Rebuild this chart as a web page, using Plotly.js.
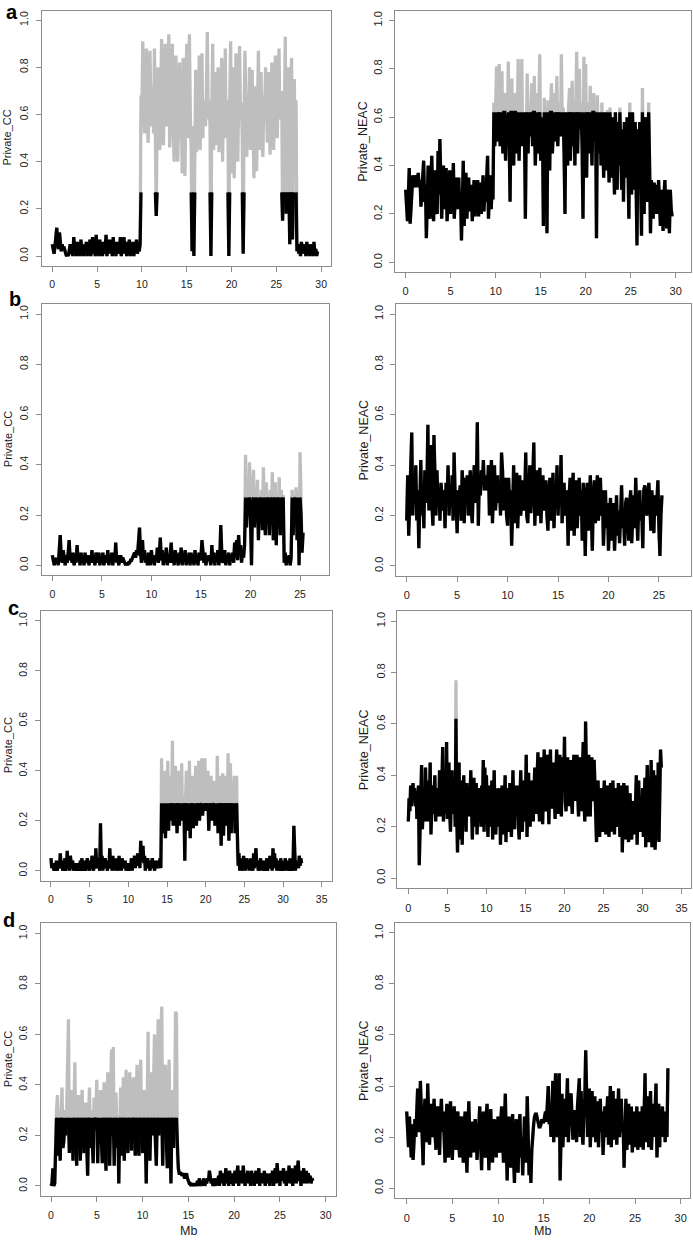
<!DOCTYPE html>
<html>
<head>
<meta charset="utf-8">
<script src="https://cdn.plot.ly/plotly-3.0.1.min.js"></script>
<style>
  body { margin: 0; background: #ffffff; }
  #graph { width: 693px; height: 1240px; }
</style>
</head>
<body>
<div id="graph"></div>
<script>
// windows are 0.1 Mb apart, every row below covers 2 Mb
let step = 0.1;

let ccThreshold = 0.27;
let neacThreshold = 0.62;

let aCC = [
    0.05, 0.03, 0.01, 0.04, 0.11, 0.12, 0.06, 0.03, 0.10, 0.04, 0.02, 0.05, 0.03, 0.04, 0.02, 0.01, 0.00, 0.01, 0.00, 0.02,
    0.05, 0.01, 0.03, 0.00, 0.08, 0.02, 0.04, 0.00, 0.06, 0.01, 0.03, 0.00, 0.07, 0.01, 0.04, 0.00, 0.05, 0.02, 0.06, 0.00,
    0.04, 0.01, 0.07, 0.00, 0.03, 0.08, 0.01, 0.04, 0.00, 0.09, 0.02, 0.05, 0.00, 0.07, 0.01, 0.04, 0.00, 0.06, 0.01, 0.03,
    0.09, 0.00, 0.05, 0.01, 0.07, 0.02, 0.04, 0.00, 0.08, 0.01, 0.05, 0.00, 0.06, 0.02, 0.04, 0.01, 0.08, 0.00, 0.05, 0.02,
    0.08, 0.01, 0.04, 0.00, 0.06, 0.02, 0.07, 0.00, 0.04, 0.01, 0.06, 0.00, 0.05, 0.02, 0.07, 0.01, 0.04, 0.02, 0.05, 0.68,
    0.62, 0.91, 0.60, 0.52, 0.70, 0.88, 0.58, 0.48, 0.66, 0.87, 0.62, 0.55, 0.72, 0.52, 0.88, 0.35, 0.17, 0.60, 0.80, 0.55,
    0.45, 0.66, 0.92, 0.60, 0.47, 0.68, 0.90, 0.58, 0.55, 0.66, 0.94, 0.46, 0.62, 0.70, 0.90, 0.52, 0.40, 0.68, 0.85, 0.55,
    0.40, 0.62, 0.82, 0.50, 0.60, 0.35, 0.84, 0.58, 0.34, 0.66, 0.90, 0.50, 0.70, 0.94, 0.60, 0.45, 0.02, 0.55, 0.00, 0.60,
    0.79, 0.44, 0.62, 0.58, 0.85, 0.45, 0.65, 0.86, 0.50, 0.66, 0.60, 0.55, 0.70, 0.95, 0.58, 0.66, 0.55, 0.00, 0.62, 0.90,
    0.45, 0.66, 0.78, 0.47, 0.62, 0.80, 0.44, 0.68, 0.55, 0.84, 0.40, 0.65, 0.58, 0.88, 0.50, 0.66, 0.60, 0.00, 0.65, 0.91,
    0.35, 0.66, 0.80, 0.33, 0.60, 0.86, 0.55, 0.40, 0.68, 0.89, 0.58, 0.65, 0.50, 0.01, 0.60, 0.87, 0.62, 0.42, 0.68, 0.55,
    0.80, 0.45, 0.65, 0.79, 0.55, 0.33, 0.62, 0.72, 0.36, 0.58, 0.87, 0.45, 0.66, 0.78, 0.50, 0.42, 0.68, 0.60, 0.80, 0.55,
    0.48, 0.68, 0.78, 0.43, 0.65, 0.82, 0.55, 0.45, 0.66, 0.85, 0.60, 0.50, 0.70, 0.88, 0.58, 0.62, 0.70, 0.15, 0.68, 0.60,
    0.93, 0.18, 0.62, 0.80, 0.55, 0.05, 0.68, 0.84, 0.07, 0.60, 0.75, 0.50, 0.66, 0.02, 0.05, 0.01, 0.04, 0.00, 0.06, 0.01,
    0.05, 0.01, 0.03, 0.00, 0.06, 0.01, 0.04, 0.00, 0.05, 0.02, 0.04, 0.00, 0.06, 0.01, 0.03, 0.00, 0.02
];

let aNEAC = [
    0.30, 0.24, 0.17, 0.28, 0.39, 0.16, 0.22, 0.33, 0.36, 0.32, 0.35, 0.31, 0.36, 0.33, 0.37, 0.31, 0.34, 0.23, 0.30, 0.38,
    0.42, 0.25, 0.32, 0.10, 0.30, 0.40, 0.22, 0.18, 0.33, 0.44, 0.25, 0.17, 0.30, 0.38, 0.22, 0.20, 0.46, 0.28, 0.51, 0.25,
    0.18, 0.30, 0.40, 0.22, 0.28, 0.39, 0.17, 0.26, 0.33, 0.38, 0.20, 0.30, 0.25, 0.41, 0.18, 0.28, 0.35, 0.22, 0.30, 0.35,
    0.22, 0.28, 0.09, 0.30, 0.42, 0.15, 0.27, 0.37, 0.18, 0.25, 0.35, 0.21, 0.30, 0.32, 0.17, 0.26, 0.34, 0.19, 0.29, 0.30,
    0.34, 0.19, 0.27, 0.33, 0.20, 0.28, 0.36, 0.21, 0.30, 0.25, 0.33, 0.44, 0.18, 0.28, 0.36, 0.22, 0.30, 0.26, 0.66, 0.48,
    0.60, 0.81, 0.50, 0.66, 0.82, 0.48, 0.58, 0.79, 0.45, 0.62, 0.70, 0.42, 0.60, 0.55, 0.83, 0.50, 0.25, 0.62, 0.76, 0.45,
    0.40, 0.62, 0.70, 0.45, 0.58, 0.84, 0.42, 0.66, 0.55, 0.84, 0.48, 0.62, 0.55, 0.18, 0.60, 0.78, 0.45, 0.64, 0.52, 0.70,
    0.74, 0.48, 0.62, 0.77, 0.40, 0.58, 0.70, 0.45, 0.64, 0.86, 0.42, 0.60, 0.55, 0.15, 0.68, 0.50, 0.62, 0.12, 0.67, 0.45,
    0.38, 0.62, 0.74, 0.45, 0.58, 0.70, 0.50, 0.64, 0.77, 0.48, 0.60, 0.66, 0.52, 0.86, 0.55, 0.64, 0.45, 0.20, 0.62, 0.48,
    0.40, 0.64, 0.72, 0.42, 0.60, 0.75, 0.48, 0.66, 0.40, 0.70, 0.87, 0.45, 0.64, 0.80, 0.55, 0.66, 0.48, 0.18, 0.85, 0.50,
    0.82, 0.35, 0.60, 0.66, 0.45, 0.73, 0.55, 0.40, 0.62, 0.70, 0.50, 0.64, 0.10, 0.69, 0.45, 0.58, 0.62, 0.40, 0.66, 0.50,
    0.35, 0.62, 0.50, 0.38, 0.63, 0.45, 0.33, 0.64, 0.52, 0.35, 0.60, 0.45, 0.28, 0.62, 0.48, 0.30, 0.58, 0.40, 0.64, 0.35,
    0.30, 0.55, 0.25, 0.58, 0.42, 0.35, 0.60, 0.38, 0.18, 0.66, 0.45, 0.28, 0.62, 0.40, 0.30, 0.58, 0.20, 0.07, 0.55, 0.35,
    0.58, 0.30, 0.11, 0.72, 0.40, 0.20, 0.60, 0.35, 0.25, 0.50, 0.66, 0.40, 0.12, 0.34, 0.22, 0.18, 0.33, 0.25, 0.20, 0.32,
    0.20, 0.34, 0.26, 0.15, 0.30, 0.22, 0.13, 0.28, 0.34, 0.20, 0.14, 0.30, 0.25, 0.12, 0.30, 0.22, 0.19
];

let bCC = [
    0.04, 0.02, 0.00, 0.03, 0.01, 0.02, 0.00, 0.06, 0.12, 0.03, 0.01, 0.06, 0.02, 0.00, 0.04, 0.01, 0.05, 0.10, 0.02, 0.04,
    0.01, 0.05, 0.00, 0.03, 0.01, 0.08, 0.02, 0.04, 0.00, 0.05, 0.01, 0.03, 0.00, 0.05, 0.02, 0.01, 0.04, 0.00, 0.03, 0.01,
    0.06, 0.01, 0.03, 0.00, 0.05, 0.02, 0.01, 0.05, 0.00, 0.03, 0.01, 0.05, 0.00, 0.02, 0.04, 0.01, 0.06, 0.00, 0.03, 0.01,
    0.05, 0.00, 0.03, 0.02, 0.09, 0.01, 0.04, 0.00, 0.02, 0.04, 0.01, 0.03, 0.02, 0.01, 0.00, 0.01, 0.00, 0.01, 0.01, 0.02,
    0.02, 0.03, 0.04, 0.05, 0.03, 0.06, 0.04, 0.10, 0.15, 0.05, 0.01, 0.10, 0.02, 0.06, 0.01, 0.04, 0.00, 0.05, 0.02, 0.00,
    0.06, 0.01, 0.03, 0.00, 0.04, 0.02, 0.07, 0.01, 0.05, 0.11, 0.02, 0.06, 0.00, 0.04, 0.01, 0.07, 0.00, 0.03, 0.01, 0.05,
    0.09, 0.01, 0.04, 0.00, 0.06, 0.02, 0.03, 0.00, 0.05, 0.01, 0.07, 0.00, 0.04, 0.02, 0.06, 0.00, 0.03, 0.01, 0.05, 0.00,
    0.05, 0.01, 0.03, 0.00, 0.06, 0.01, 0.04, 0.00, 0.05, 0.02, 0.03, 0.10, 0.04, 0.01, 0.05, 0.00, 0.03, 0.02, 0.04, 0.01,
    0.00, 0.08, 0.01, 0.05, 0.00, 0.04, 0.02, 0.06, 0.00, 0.03, 0.16, 0.05, 0.01, 0.02, 0.06, 0.00, 0.04, 0.01, 0.05, 0.00,
    0.04, 0.02, 0.05, 0.01, 0.09, 0.03, 0.10, 0.02, 0.12, 0.04, 0.08, 0.01, 0.06, 0.03, 0.08, 0.44, 0.15, 0.30, 0.20, 0.41,
    0.18, 0.00, 0.25, 0.38, 0.15, 0.29, 0.20, 0.34, 0.10, 0.28, 0.18, 0.30, 0.14, 0.39, 0.22, 0.12, 0.33, 0.20, 0.28, 0.12,
    0.30, 0.18, 0.37, 0.10, 0.25, 0.33, 0.08, 0.28, 0.18, 0.35, 0.12, 0.30, 0.20, 0.28, 0.01, 0.05, 0.00, 0.03, 0.01, 0.04,
    0.00, 0.03, 0.30, 0.12, 0.28, 0.18, 0.31, 0.10, 0.29, 0.00, 0.45, 0.20, 0.05, 0.13
];

let bNEAC = [
    0.18, 0.36, 0.12, 0.26, 0.30, 0.53, 0.20, 0.35, 0.25, 0.40, 0.18, 0.30, 0.07, 0.28, 0.42, 0.20, 0.32, 0.15, 0.38, 0.25,
    0.30, 0.56, 0.22, 0.35, 0.48, 0.25, 0.16, 0.52, 0.28, 0.20, 0.38, 0.25, 0.30, 0.18, 0.33, 0.26, 0.22, 0.30, 0.15, 0.33,
    0.25, 0.40, 0.20, 0.30, 0.24, 0.36, 0.18, 0.45, 0.28, 0.25, 0.13, 0.30, 0.26, 0.32, 0.18, 0.38, 0.28, 0.17, 0.35, 0.30,
    0.36, 0.20, 0.30, 0.38, 0.22, 0.17, 0.32, 0.40, 0.25, 0.30, 0.57, 0.16, 0.35, 0.28, 0.38, 0.32, 0.42, 0.30, 0.36, 0.33,
    0.30, 0.40, 0.20, 0.34, 0.42, 0.17, 0.28, 0.40, 0.22, 0.30, 0.36, 0.25, 0.32, 0.20, 0.45, 0.38, 0.22, 0.30, 0.35, 0.20,
    0.16, 0.35, 0.25, 0.30, 0.08, 0.22, 0.40, 0.17, 0.30, 0.37, 0.15, 0.28, 0.36, 0.20, 0.30, 0.34, 0.22, 0.28, 0.45, 0.20,
    0.17, 0.30, 0.40, 0.21, 0.28, 0.35, 0.49, 0.16, 0.30, 0.38, 0.20, 0.32, 0.39, 0.17, 0.28, 0.36, 0.22, 0.30, 0.34, 0.20,
    0.14, 0.30, 0.35, 0.18, 0.28, 0.37, 0.15, 0.30, 0.25, 0.40, 0.20, 0.30, 0.26, 0.44, 0.17, 0.28, 0.33, 0.20, 0.30, 0.26,
    0.08, 0.28, 0.35, 0.14, 0.25, 0.37, 0.12, 0.30, 0.34, 0.15, 0.26, 0.35, 0.20, 0.30, 0.10, 0.33, 0.22, 0.04, 0.28, 0.33,
    0.14, 0.30, 0.36, 0.20, 0.06, 0.28, 0.34, 0.17, 0.30, 0.36, 0.18, 0.25, 0.35, 0.20, 0.30, 0.08, 0.26, 0.30, 0.15, 0.25,
    0.06, 0.22, 0.27, 0.10, 0.20, 0.25, 0.06, 0.18, 0.28, 0.12, 0.22, 0.09, 0.26, 0.32, 0.15, 0.20, 0.08, 0.25, 0.27, 0.15,
    0.10, 0.24, 0.30, 0.09, 0.20, 0.28, 0.15, 0.35, 0.22, 0.10, 0.25, 0.30, 0.18, 0.22, 0.07, 0.30, 0.32, 0.22, 0.20, 0.28,
    0.33, 0.25, 0.14, 0.30, 0.22, 0.13, 0.28, 0.20, 0.26, 0.34, 0.15, 0.04, 0.20, 0.28
];

let cCC = [
    0.05, 0.01, 0.03, 0.02, 0.00, 0.03, 0.01, 0.04, 0.00, 0.02, 0.03, 0.01, 0.07, 0.02, 0.04, 0.00, 0.03, 0.01, 0.05, 0.00,
    0.02, 0.08, 0.01, 0.04, 0.00, 0.06, 0.02, 0.01, 0.04, 0.00, 0.03, 0.01, 0.02, 0.00, 0.03, 0.01, 0.02, 0.00, 0.04, 0.01,
    0.05, 0.00, 0.03, 0.01, 0.04, 0.00, 0.02, 0.05, 0.01, 0.03, 0.00, 0.04, 0.01, 0.06, 0.02, 0.00, 0.04, 0.01, 0.09, 0.02,
    0.05, 0.01, 0.03, 0.00, 0.19, 0.02, 0.06, 0.00, 0.04, 0.01, 0.05, 0.02, 0.03, 0.00, 0.04, 0.01, 0.09, 0.02, 0.05, 0.00,
    0.06, 0.01, 0.04, 0.00, 0.05, 0.02, 0.03, 0.00, 0.06, 0.01, 0.04, 0.00, 0.05, 0.02, 0.03, 0.01, 0.04, 0.00, 0.03, 0.01,
    0.03, 0.00, 0.02, 0.01, 0.05, 0.00, 0.04, 0.02, 0.06, 0.01, 0.05, 0.02, 0.07, 0.03, 0.05, 0.01, 0.12, 0.04, 0.06, 0.10,
    0.03, 0.06, 0.00, 0.04, 0.02, 0.05, 0.01, 0.03, 0.00, 0.04, 0.02, 0.05, 0.01, 0.03, 0.00, 0.04, 0.02, 0.03, 0.01, 0.04,
    0.02, 0.05, 0.01, 0.45, 0.15, 0.30, 0.22, 0.40, 0.13, 0.28, 0.18, 0.44, 0.16, 0.30, 0.20, 0.38, 0.25, 0.52, 0.18, 0.32,
    0.18, 0.42, 0.25, 0.15, 0.30, 0.40, 0.18, 0.32, 0.22, 0.43, 0.20, 0.30, 0.25, 0.04, 0.28, 0.40, 0.16, 0.30, 0.22, 0.44,
    0.13, 0.30, 0.25, 0.38, 0.17, 0.32, 0.22, 0.42, 0.18, 0.30, 0.25, 0.44, 0.20, 0.32, 0.26, 0.45, 0.22, 0.34, 0.28, 0.45,
    0.24, 0.35, 0.28, 0.40, 0.16, 0.30, 0.24, 0.38, 0.20, 0.32, 0.26, 0.36, 0.18, 0.30, 0.22, 0.46, 0.15, 0.32, 0.25, 0.38,
    0.10, 0.30, 0.39, 0.14, 0.28, 0.38, 0.18, 0.30, 0.25, 0.47, 0.12, 0.30, 0.43, 0.15, 0.28, 0.36, 0.20, 0.38, 0.15, 0.30,
    0.38, 0.06, 0.02, 0.07, 0.00, 0.05, 0.01, 0.03, 0.00, 0.06, 0.01, 0.04, 0.00, 0.05, 0.02, 0.01, 0.04, 0.00, 0.05, 0.01,
    0.03, 0.00, 0.07, 0.01, 0.05, 0.09, 0.02, 0.04, 0.00, 0.03, 0.01, 0.05, 0.00, 0.04, 0.02, 0.03, 0.00, 0.04, 0.01, 0.05,
    0.00, 0.03, 0.01, 0.06, 0.02, 0.04, 0.00, 0.09, 0.03, 0.07, 0.01, 0.05, 0.00, 0.04, 0.02, 0.03, 0.00, 0.05, 0.01, 0.04,
    0.00, 0.03, 0.01, 0.05, 0.00, 0.04, 0.02, 0.03, 0.00, 0.05, 0.01, 0.04, 0.00, 0.03, 0.18, 0.02, 0.00, 0.04, 0.01, 0.03,
    0.01, 0.06, 0.02, 0.05, 0.03
];

let cNEAC = [
    0.22, 0.31, 0.26, 0.36, 0.28, 0.33, 0.37, 0.30, 0.35, 0.28, 0.34, 0.23, 0.30, 0.36, 0.05, 0.22, 0.30, 0.44, 0.19, 0.28,
    0.35, 0.22, 0.43, 0.28, 0.32, 0.22, 0.38, 0.30, 0.45, 0.17, 0.30, 0.36, 0.25, 0.33, 0.40, 0.22, 0.30, 0.35, 0.28, 0.24,
    0.42, 0.28, 0.24, 0.36, 0.51, 0.22, 0.30, 0.40, 0.25, 0.53, 0.23, 0.35, 0.45, 0.26, 0.18, 0.32, 0.42, 0.25, 0.30, 0.38,
    0.20, 0.77, 0.25, 0.10, 0.30, 0.45, 0.15, 0.28, 0.38, 0.13, 0.30, 0.40, 0.22, 0.33, 0.18, 0.37, 0.28, 0.24, 0.35, 0.30,
    0.42, 0.25, 0.15, 0.33, 0.39, 0.20, 0.30, 0.37, 0.17, 0.28, 0.35, 0.22, 0.30, 0.20, 0.36, 0.28, 0.46, 0.18, 0.43, 0.22,
    0.40, 0.25, 0.16, 0.30, 0.36, 0.20, 0.28, 0.38, 0.15, 0.30, 0.42, 0.22, 0.17, 0.32, 0.35, 0.20, 0.28, 0.35, 0.13, 0.30,
    0.36, 0.22, 0.17, 0.30, 0.40, 0.14, 0.28, 0.35, 0.22, 0.18, 0.37, 0.30, 0.16, 0.28, 0.42, 0.24, 0.19, 0.32, 0.36, 0.25,
    0.36, 0.20, 0.15, 0.30, 0.42, 0.25, 0.18, 0.32, 0.38, 0.22, 0.30, 0.48, 0.16, 0.28, 0.41, 0.25, 0.20, 0.34, 0.38, 0.28,
    0.22, 0.35, 0.43, 0.28, 0.25, 0.40, 0.49, 0.30, 0.22, 0.38, 0.47, 0.32, 0.21, 0.36, 0.50, 0.30, 0.26, 0.40, 0.48, 0.33,
    0.21, 0.36, 0.50, 0.30, 0.27, 0.42, 0.45, 0.32, 0.23, 0.40, 0.50, 0.35, 0.25, 0.38, 0.48, 0.30, 0.24, 0.42, 0.47, 0.35,
    0.55, 0.30, 0.26, 0.40, 0.47, 0.33, 0.28, 0.42, 0.46, 0.30, 0.25, 0.40, 0.48, 0.35, 0.30, 0.42, 0.48, 0.32, 0.24, 0.40,
    0.47, 0.33, 0.26, 0.42, 0.53, 0.30, 0.22, 0.61, 0.35, 0.24, 0.40, 0.48, 0.30, 0.24, 0.42, 0.47, 0.32, 0.30, 0.46, 0.38,
    0.30, 0.14, 0.26, 0.38, 0.20, 0.16, 0.32, 0.35, 0.22, 0.18, 0.30, 0.38, 0.24, 0.17, 0.30, 0.36, 0.22, 0.16, 0.28, 0.37,
    0.18, 0.30, 0.38, 0.24, 0.17, 0.32, 0.35, 0.22, 0.20, 0.37, 0.28, 0.16, 0.30, 0.36, 0.10, 0.25, 0.37, 0.20, 0.15, 0.30,
    0.36, 0.22, 0.14, 0.30, 0.33, 0.18, 0.15, 0.28, 0.30, 0.22, 0.17, 0.30, 0.40, 0.13, 0.26, 0.38, 0.22, 0.18, 0.30, 0.25,
    0.35, 0.16, 0.28, 0.39, 0.12, 0.25, 0.44, 0.20, 0.14, 0.38, 0.30, 0.46, 0.12, 0.25, 0.42, 0.30, 0.11, 0.22, 0.40, 0.15,
    0.45, 0.14, 0.30, 0.50, 0.43
];

let dCC = [
    0.00, 0.01, 0.07, 0.00, 0.01, 0.23, 0.30, 0.36, 0.12, 0.30, 0.10, 0.28, 0.39, 0.15, 0.18, 0.30, 0.20, 0.28, 0.48, 0.66,
    0.13, 0.32, 0.20, 0.38, 0.10, 0.28, 0.49, 0.18, 0.08, 0.30, 0.36, 0.15, 0.10, 0.32, 0.38, 0.20, 0.13, 0.30, 0.33, 0.18,
    0.04, 0.28, 0.39, 0.15, 0.30, 0.20, 0.09, 0.35, 0.22, 0.28, 0.42, 0.09, 0.30, 0.20, 0.38, 0.15, 0.09, 0.30, 0.41, 0.20,
    0.06, 0.30, 0.45, 0.18, 0.08, 0.32, 0.54, 0.20, 0.55, 0.08, 0.30, 0.37, 0.15, 0.28, 0.01, 0.30, 0.39, 0.12, 0.28, 0.43,
    0.10, 0.30, 0.46, 0.18, 0.13, 0.32, 0.45, 0.20, 0.14, 0.30, 0.43, 0.22, 0.12, 0.35, 0.48, 0.20, 0.12, 0.30, 0.50, 0.18,
    0.13, 0.30, 0.38, 0.20, 0.01, 0.32, 0.61, 0.15, 0.10, 0.30, 0.45, 0.20, 0.36, 0.60, 0.18, 0.08, 0.35, 0.66, 0.20, 0.30,
    0.62, 0.71, 0.08, 0.30, 0.40, 0.48, 0.15, 0.07, 0.30, 0.50, 0.20, 0.01, 0.28, 0.38, 0.15, 0.30, 0.69, 0.68, 0.12, 0.07,
    0.05, 0.05, 0.05, 0.04, 0.05, 0.04, 0.03, 0.04, 0.05, 0.03, 0.02, 0.01, 0.01, 0.00, 0.01, 0.00, 0.01, 0.00, 0.01, 0.00,
    0.02, 0.00, 0.03, 0.01, 0.00, 0.02, 0.01, 0.03, 0.00, 0.02, 0.01, 0.03, 0.02, 0.06, 0.03, 0.01, 0.02, 0.00, 0.03, 0.01,
    0.00, 0.03, 0.01, 0.04, 0.00, 0.06, 0.02, 0.01, 0.05, 0.00, 0.03, 0.07, 0.01, 0.04, 0.00, 0.06, 0.02, 0.01, 0.05, 0.00,
    0.03, 0.06, 0.01, 0.04, 0.08, 0.00, 0.05, 0.02, 0.06, 0.01, 0.08, 0.03, 0.00, 0.05, 0.02, 0.06, 0.01, 0.04, 0.00, 0.06,
    0.02, 0.05, 0.00, 0.04, 0.06, 0.01, 0.03, 0.07, 0.00, 0.05, 0.02, 0.04, 0.01, 0.06, 0.00, 0.03, 0.05, 0.01, 0.04, 0.00,
    0.05, 0.02, 0.06, 0.00, 0.04, 0.07, 0.01, 0.09, 0.03, 0.05, 0.00, 0.06, 0.02, 0.04, 0.07, 0.01, 0.05, 0.00, 0.06, 0.02,
    0.08, 0.01, 0.05, 0.07, 0.00, 0.06, 0.02, 0.08, 0.01, 0.05, 0.10, 0.02, 0.06, 0.00, 0.05, 0.03, 0.07, 0.01, 0.04, 0.06,
    0.01, 0.05, 0.02, 0.04, 0.01, 0.03, 0.02
];

let dNEAC = [
    0.30, 0.22, 0.16, 0.28, 0.21, 0.12, 0.25, 0.11, 0.18, 0.27, 0.20, 0.30, 0.39, 0.25, 0.22, 0.42, 0.30, 0.20, 0.09, 0.28,
    0.35, 0.22, 0.18, 0.41, 0.25, 0.17, 0.30, 0.33, 0.20, 0.28, 0.35, 0.22, 0.15, 0.30, 0.32, 0.24, 0.13, 0.28, 0.35, 0.22,
    0.30, 0.20, 0.10, 0.25, 0.33, 0.15, 0.12, 0.28, 0.34, 0.20, 0.11, 0.25, 0.32, 0.22, 0.15, 0.28, 0.30, 0.18, 0.12, 0.26,
    0.28, 0.18, 0.10, 0.25, 0.30, 0.15, 0.06, 0.22, 0.34, 0.20, 0.12, 0.26, 0.24, 0.14, 0.20, 0.27, 0.22, 0.11, 0.18, 0.26,
    0.32, 0.18, 0.07, 0.24, 0.30, 0.15, 0.12, 0.28, 0.33, 0.20, 0.07, 0.22, 0.31, 0.18, 0.10, 0.25, 0.27, 0.16, 0.12, 0.22,
    0.28, 0.15, 0.14, 0.26, 0.32, 0.20, 0.10, 0.25, 0.37, 0.18, 0.03, 0.20, 0.28, 0.15, 0.08, 0.22, 0.29, 0.12, 0.02, 0.20,
    0.27, 0.15, 0.06, 0.25, 0.29, 0.12, 0.20, 0.05, 0.22, 0.28, 0.10, 0.16, 0.36, 0.20, 0.05, 0.12, 0.02, 0.15, 0.22, 0.25,
    0.28, 0.29, 0.29, 0.27, 0.25, 0.24, 0.24, 0.25, 0.27, 0.26, 0.26, 0.28, 0.30, 0.26, 0.32, 0.40, 0.25, 0.30, 0.20, 0.33,
    0.42, 0.18, 0.30, 0.45, 0.25, 0.20, 0.35, 0.45, 0.03, 0.30, 0.37, 0.16, 0.28, 0.35, 0.20, 0.30, 0.43, 0.18, 0.28, 0.36,
    0.37, 0.22, 0.19, 0.30, 0.30, 0.25, 0.18, 0.32, 0.37, 0.43, 0.20, 0.38, 0.22, 0.17, 0.30, 0.35, 0.54, 0.25, 0.20, 0.30,
    0.39, 0.16, 0.25, 0.38, 0.20, 0.30, 0.36, 0.18, 0.25, 0.34, 0.16, 0.28, 0.35, 0.22, 0.30, 0.13, 0.25, 0.32, 0.20, 0.28,
    0.36, 0.17, 0.28, 0.40, 0.16, 0.30, 0.38, 0.19, 0.26, 0.35, 0.17, 0.30, 0.39, 0.20, 0.30, 0.35, 0.22, 0.25, 0.08, 0.30,
    0.35, 0.15, 0.25, 0.33, 0.17, 0.30, 0.32, 0.14, 0.28, 0.30, 0.16, 0.25, 0.32, 0.15, 0.28, 0.30, 0.16, 0.25, 0.32, 0.15,
    0.30, 0.45, 0.18, 0.28, 0.36, 0.16, 0.30, 0.38, 0.15, 0.25, 0.33, 0.20, 0.28, 0.41, 0.12, 0.28, 0.33, 0.16, 0.30, 0.25,
    0.32, 0.20, 0.30, 0.18, 0.28, 0.20, 0.47
];

let ticks30 = [0, 5, 10, 15, 20, 25, 30];
let ticks25 = [0, 5, 10, 15, 20, 25];
let ticks35 = [0, 5, 10, 15, 20, 25, 30, 35];
let yTicks = [0, 0.2, 0.4, 0.6, 0.8, 1.0];
let yTickText = ["0.0", "0.2", "0.4", "0.6", "0.8", "1.0"];

const W = 693, H = 1240;
const fontFamily = "Liberation Sans, Arial, sans-serif";

// panel boxes in pixels: left, right, top, bottom
let panels = [
    {vals: aCC,   thr: ccThreshold,   box: [41.7, 331, 10.7, 265.5],   xr: [-1.18, 31.1],  ticks: ticks30, name: "Private_CC",   left: true},
    {vals: aNEAC, thr: neacThreshold, box: [394.5, 691, 10.7, 272],    xr: [-1.24, 31.7],  ticks: ticks30, name: "Private_NEAC", left: false},
    {vals: bCC,   thr: ccThreshold,   box: [42.3, 329, 304, 575.3],    xr: [-1.01, 27.92], ticks: ticks25, name: "Private_CC",   left: true},
    {vals: bNEAC, thr: neacThreshold, box: [395.7, 691, 304, 576],     xr: [-1.09, 28.18], ticks: ticks25, name: "Private_NEAC", left: false},
    {vals: cCC,   thr: ccThreshold,   box: [40.7, 332.3, 611, 880.7],  xr: [-1.33, 36.37], ticks: ticks35, name: "Private_CC",   left: true},
    {vals: cNEAC, thr: neacThreshold, box: [397.3, 691, 611, 888.3],   xr: [-1.41, 36.2],  ticks: ticks35, name: "Private_NEAC", left: false},
    {vals: dCC,   thr: ccThreshold,   box: [40.7, 336, 923.3, 1196],   xr: [-1.13, 31.13], ticks: ticks30, name: "Private_CC",   left: true},
    {vals: dNEAC, thr: neacThreshold, box: [395, 690, 922.7, 1198.3],  xr: [-1.28, 31.02], ticks: ticks30, name: "Private_NEAC", left: false}
];

function positions(vals) {
    let xs = [];
    for (let i = 0; i < vals.length; i++) {
        xs.push(Math.round(i * step * 10) / 10);
    }
    return xs;
}

// black part of the line: the segments with at least one end under the threshold, clipped at it
function blackPart(xs, ys, thr) {
    let bx = [], by = [];
    let open = false;
    for (let i = 0; i < ys.length - 1; i++) {
        if (ys[i] > thr && ys[i + 1] > thr) {
            if (open) {
                bx.push(null);
                by.push(null);
                open = false;
            }
            continue;
        }
        if (!open) {
            bx.push(xs[i]);
            by.push(Math.min(ys[i], thr));
            open = true;
        }
        bx.push(xs[i + 1]);
        by.push(Math.min(ys[i + 1], thr));
    }
    return {x: bx, y: by};
}

let data = [];
let layout = {
    width: W,
    height: H,
    margin: {l: 0, r: 0, t: 0, b: 0},
    paper_bgcolor: "#ffffff",
    plot_bgcolor: "#ffffff",
    showlegend: false,
    font: {family: fontFamily, color: "#1a1a1a"},
    annotations: []
};

panels.forEach(function(p, k) {
    let n = k + 1;
    let xa = "x" + n, ya = "y" + n;
    let xs = positions(p.vals);
    let black = blackPart(xs, p.vals, p.thr);
    let tickSize = p.left ? 10.5 : 11;

    data.push({
        x: xs, y: p.vals, xaxis: xa, yaxis: ya,
        type: "scatter", mode: "lines",
        line: {color: "#bebebe", width: 3.3},
        hoverinfo: "skip"
    });
    data.push({
        x: black.x, y: black.y, xaxis: xa, yaxis: ya,
        type: "scatter", mode: "lines", connectgaps: false,
        line: {color: "#000000", width: 3.3},
        hoverinfo: "skip"
    });

    let axisStyle = {
        showline: true, mirror: true, linecolor: "#8c8c8c", linewidth: 1,
        ticks: "outside", ticklen: 5, tickwidth: 1, tickcolor: "#8c8c8c",
        showgrid: false, zeroline: false, fixedrange: true,
        tickfont: {family: fontFamily, size: tickSize, color: "#222222"}
    };

    layout["xaxis" + n] = Object.assign({}, axisStyle, {
        domain: [p.box[0] / W, p.box[1] / W],
        range: p.xr,
        anchor: ya,
        tickmode: "array",
        tickvals: p.ticks,
        ticktext: p.ticks.map(String),
        ticklabelstandoff: 4
    });
    layout["yaxis" + n] = Object.assign({}, axisStyle, {
        domain: [1 - p.box[3] / H, 1 - p.box[2] / H],
        range: [-0.04, 1.04],
        anchor: xa,
        tickmode: "array",
        tickvals: yTicks,
        ticktext: yTickText,
        tickangle: -90,
        ticklabelstandoff: p.left ? 4 : 2
    });

    // axis title on the left of each panel
    layout.annotations.push({
        text: p.name,
        xref: "paper", yref: ya + " domain",
        x: (p.left ? 7.5 : 363.5) / W, y: 0.5,
        xanchor: "center", yanchor: "middle",
        textangle: -90, showarrow: false,
        font: {family: fontFamily, size: p.left ? 11 : 12.5, color: "#1a1a1a"}
    });
});

// Mb under the bottom row
[[7, 1231], [8, 1231]].forEach(function(m) {
    layout.annotations.push({
        text: "Mb",
        xref: "x" + m[0] + " domain", yref: "paper",
        x: 0.5, y: 1 - m[1] / H,
        xanchor: "center", yanchor: "middle", showarrow: false,
        font: {family: fontFamily, size: 12.5, color: "#1a1a1a"}
    });
});

// panel letters
let letters = [["a", 12, 12], ["b", 15, 299], ["c", 13, 608], ["d", 9, 920]];
letters.forEach(function(l) {
    layout.annotations.push({
        text: "<b>" + l[0] + "</b>",
        xref: "paper", yref: "paper",
        x: l[1] / W, y: 1 - l[2] / H,
        xanchor: "center", yanchor: "middle", showarrow: false,
        font: {family: fontFamily, size: 20, color: "#000000"}
    });
});

Plotly.newPlot("graph", data, layout, {staticPlot: true, displayModeBar: false});
</script>
</body>
</html>
